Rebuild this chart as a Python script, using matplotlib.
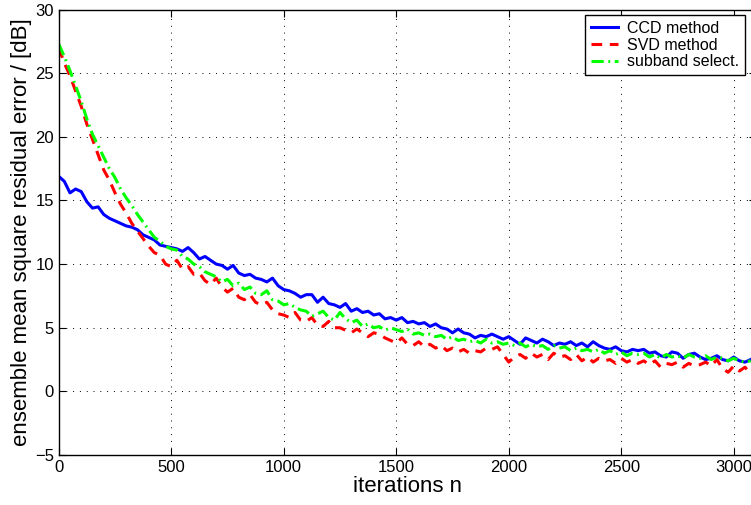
"""Ensemble mean square residual error vs. iterations (CCD / SVD / subband)."""

import numpy as np
import matplotlib
matplotlib.use("Agg")
import matplotlib.pyplot as plt

plt.rcParams["font.family"] = ["Liberation Sans", "DejaVu Sans"]

step = 25
ccd = [16.9, 16.5, 15.6, 15.9, 15.7, 14.9, 14.4, 14.5, 13.9, 13.6,
       13.4, 13.2, 13.0, 12.9, 12.7, 12.3, 12.1, 11.9, 11.5, 11.4,
       11.3, 11.2, 11.0, 11.3, 10.9, 10.4, 10.6, 10.3, 10.0, 9.9,
       9.6, 9.9, 9.3, 9.1, 9.2, 8.9, 8.8, 8.6, 8.9, 8.3,
       8.0, 7.9, 7.7, 7.4, 7.6, 7.6, 7.0, 7.4, 6.9, 6.8,
       6.6, 6.9, 6.3, 6.5, 6.2, 6.3, 6.0, 6.1, 5.7, 5.8,
       5.6, 5.8, 5.4, 5.5, 5.3, 5.4, 5.1, 5.3, 5.0, 4.9,
       4.6, 4.9, 4.6, 4.5, 4.2, 4.4, 4.3, 4.5, 4.3, 4.1,
       4.3, 4.0, 3.7, 4.2, 4.0, 3.8, 4.1, 3.9, 3.6, 3.8,
       3.7, 3.9, 3.6, 3.8, 3.5, 3.9, 3.6, 3.4, 3.3, 3.5,
       3.2, 3.1, 3.3, 3.2, 3.3, 3.0, 3.1, 2.8, 2.7, 3.1,
       3.0, 2.6, 2.9, 3.0, 2.7, 2.5, 2.6, 2.8, 2.5, 2.4,
       2.7, 2.4, 2.3, 2.5]
svd = [27.0, 25.8, 24.8, 23.6, 22.4, 21.0, 19.8, 18.6, 17.4, 16.6,
       15.6, 14.7, 14.0, 13.2, 12.6, 12.0, 11.4, 10.9, 10.7, 10.0,
       9.8, 10.3, 9.6, 9.8, 9.2, 9.3, 8.7, 8.4, 8.9, 8.2,
       7.8, 8.1, 7.4, 7.2, 7.6, 7.0, 6.8, 7.0, 6.4, 6.1,
       6.0, 5.8, 6.2, 5.6, 5.5, 5.8, 5.2, 5.1, 5.5, 5.0,
       5.0, 4.8, 4.6, 4.9, 4.6, 4.3, 4.6, 4.5, 4.2, 4.0,
       3.8, 4.2, 3.7, 3.6, 3.9, 3.5, 3.7, 3.4, 3.6, 3.2,
       3.4, 3.1, 3.3, 3.0, 3.2, 3.1, 3.4, 3.3, 3.5, 2.9,
       2.3, 2.7, 2.9, 2.6, 3.0, 2.7, 2.9, 2.5, 3.0, 2.7,
       2.8, 2.5, 2.9, 2.4, 2.7, 2.3, 2.6, 2.4, 2.5, 2.2,
       2.6, 2.3, 2.5, 2.2, 2.4, 2.1, 2.4, 1.9, 2.2, 2.1,
       2.3, 1.9, 2.2, 2.0, 2.1, 2.3, 2.0, 2.5, 1.8, 1.5,
       2.0, 1.6, 1.9, 1.4]
subband = [27.3, 26.3, 25.2, 24.0, 22.8, 21.4, 20.2, 19.3, 18.4, 17.5,
           16.8, 15.9, 15.2, 14.6, 13.9, 13.3, 12.7, 12.1, 11.8, 11.4,
           11.2, 11.1, 10.6, 10.4, 10.0, 9.8, 9.4, 9.2, 9.0, 8.6,
           8.8, 8.3, 8.5, 8.0, 8.2, 7.7, 7.6, 7.9, 7.2, 7.1,
           6.8, 6.9, 6.6, 6.4, 6.3, 5.9, 6.1, 6.3, 5.8, 5.6,
           6.2, 5.7, 5.4, 5.6, 5.1, 5.3, 5.0, 5.1, 4.8, 5.0,
           4.85, 4.7, 4.9, 4.5, 4.6, 4.4, 4.5, 4.3, 4.4, 4.1,
           4.3, 4.0, 4.1, 3.9, 4.0, 3.8, 4.1, 3.8, 3.9, 3.7,
           3.8, 3.6, 3.8, 3.5, 3.7, 3.5, 3.6, 3.3, 3.6, 3.4,
           3.5, 3.2, 3.4, 3.2, 3.3, 3.1, 3.3, 3.0, 3.2, 2.9,
           3.1, 2.8, 3.0, 2.9, 3.0, 2.7, 2.9, 2.6, 2.9, 2.7,
           2.8, 2.6, 2.9, 2.7, 2.6, 2.8, 2.5, 2.7, 2.6, 2.4,
           2.6, 2.4, 2.3, 2.4]

labels = ["CCD method", "SVD method", "subband select."]

fig = plt.figure(figsize=(7.51, 5.05), dpi=100)
# the reference is cropped on the right, so the right spine sits just past the figure edge
ax = fig.add_axes([0.0782, 0.099, 0.9288, 0.882])

ax.plot(step * np.arange(len(ccd)), ccd, color="#0000ff", lw=2.2, ls="-", label=labels[0])
ax.plot(step * np.arange(len(svd)), svd, color="#ff0000", lw=2.2, ls=(0, (3.5, 2.5)), label=labels[1])
ax.plot(step * np.arange(len(subband)), subband, color="#00ff00", lw=2.2, ls=(0, (4, 1.5, 0.6, 1.5)),
        label=labels[2])

ax.set_xlim(0, 3100)
ax.set_ylim(-5, 30)
ax.set_xticks(np.arange(0, 3001, 500))
ax.set_yticks(np.arange(-5, 31, 5))
ax.set_yticklabels(["\u22125"] + [str(v) for v in range(0, 31, 5)])
ax.tick_params(direction="in", top=True, right=True, labelsize=12, length=5)
ax.grid(True, color="black", ls=(0, (1, 6)), lw=0.7)
for s in ax.spines.values():
    s.set_linewidth(1.0)

ax.set_xlabel("iterations n", fontsize=16, labelpad=1)
ax.set_ylabel("ensemble mean square residual error / [dB]", fontsize=16, labelpad=2)

# legend box placed in figure pixels, as in the reference
leg = ax.legend(loc="upper right", bbox_to_anchor=(745 / 751, 1 - 15 / 505),
                bbox_transform=fig.transFigure, borderaxespad=0, fancybox=False,
                edgecolor="black", framealpha=1, fontsize=11.5, handlelength=1.7,
                labelspacing=0.12, borderpad=0.35, handletextpad=0.6)
leg.get_frame().set_linewidth(1.0)

fig.savefig("out.png", dpi=100)
